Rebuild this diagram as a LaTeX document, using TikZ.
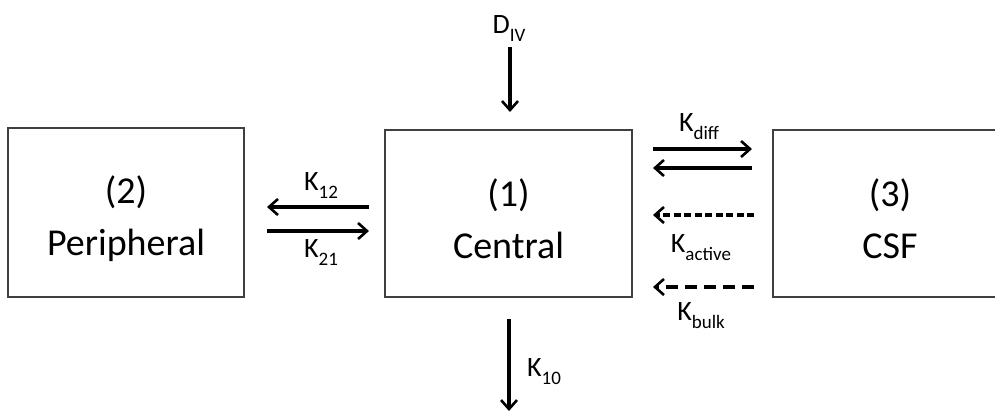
\documentclass[tikz,border=0pt]{standalone}
\usepackage{fontspec}
\setmainfont{Carlito}
\usetikzlibrary{arrows.meta,calc}
\newcommand\ksub[1]{\raisebox{-8pt}{\fontsize{19}{19}\selectfont #1}}
\newcommand\klab[2]{\fontsize{28}{28}\selectfont #1\ksub{#2}}
\tikzset{
  compbox/.style={draw=black!75, line width=2pt, rectangle, inner sep=0pt},
  boxtext/.style={inner sep=0pt, align=center, font=\fontsize{38}{52}\selectfont},
  flow/.style={line width=3.1pt, -{Straight Barb[length=9pt,width=16pt,line width=2.6pt]}},
  flowact/.style={flow, dash pattern=on 7pt off 3.5pt},
  flowbulk/.style={flow, dash pattern=on 12pt off 7pt},
  lab/.style={inner sep=0pt, anchor=base}
}
\begin{document}
\begin{tikzpicture}[x=1pt,y=-1pt]
\useasboundingbox (0,0) rectangle (995,413);
\node[compbox, minimum width=236pt, minimum height=169pt] (peri) at (126,212.5) {};
\node[compbox, minimum width=247pt, minimum height=167pt] (cent) at (508.5,213.5) {};
\node[compbox, minimum width=234pt, minimum height=167pt] (csf) at (890,213.5) {};
\node[boxtext] (peritxt) at (126,219) {(2)\\Peripheral};
\node[boxtext] (centtxt) at (508.5,219) {(1)\\Central};
\node[boxtext] (csftxt) at (890,219) {(3)\\CSF};

% D_IV
\node[lab] (div) at (509,33) {\klab{D}{IV}};
\draw[flow] ($(cent.north)+(1.5,-82)$) -- ($(cent.north)+(1.5,-17)$);

% K10
\draw[flow] ($(cent.south)+(0.5,21)$) -- ($(cent.south)+(0.5,113)$);
\node[lab] (k10) at (544,376) {\klab{K}{10}};

% Peripheral <-> Central
\draw[flow] ($(cent.west)+(-15,-6.5)$) -- ($(peri.east)+(22,-5.5)$);
\draw[flow] ($(peri.east)+(22,18.5)$) -- ($(cent.west)+(-15,17.5)$);
\node[lab] (k12) at (321,190) {\klab{K}{12}};
\node[lab] (k21) at (321,257) {\klab{K}{21}};

% Central <-> CSF
\draw[flow] ($(cent.east)+(20,-64.5)$) -- ($(csf.west)+(-20,-64.5)$);
\draw[flow] ($(csf.west)+(-20,-45.5)$) -- ($(cent.east)+(20,-45.5)$);
\draw[flowact] ($(csf.west)+(-18,1.5)$) -- ($(cent.east)+(20,1.5)$);
\draw[flowbulk] ($(csf.west)+(-18,73.5)$) -- ($(cent.east)+(20,73.5)$);
\node[lab] (kdiff) at (699,131) {\klab{K}{diff}};
\node[lab] (kact) at (701,252) {\klab{K}{active}};
\node[lab] (kbulk) at (701,320) {\klab{K}{bulk}};
\end{tikzpicture}
\end{document}
